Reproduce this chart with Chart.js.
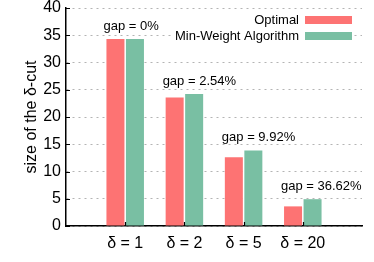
<!DOCTYPE html>
<html>
<head>
<meta charset="utf-8">
<script src="https://cdn.jsdelivr.net/npm/chart.js@4.4.1/dist/chart.umd.min.js"></script>
<style>
	html, body { margin: 0; padding: 0; background: #fff; }
	#wrap { width: 374px; height: 262px; }
</style>
</head>
<body>
<div id="wrap"><canvas id="chart"></canvas></div>
<script>
	// ===== DATA =====
	const categories = ['δ = 1', 'δ = 2', 'δ = 5', 'δ = 20'];
	const optimalValues = [34.3, 23.6, 12.6, 3.6];
	const minWeightValues = [34.3, 24.2, 13.85, 4.92];
	const gapLabels = ['gap = 0%', 'gap = 2.54%', 'gap = 9.92%', 'gap = 36.62%'];
	const yTicks = [0, 5, 10, 15, 20, 25, 30, 35, 40];

	const FONT = '"Liberation Sans", Arial, Helvetica, sans-serif';
	const RED = '#fd7373';
	const GREEN = '#79bfa3';

	// empty slot on each side so the groups sit at 1/5 .. 4/5 of the axis
	const labels = [''].concat(categories, ['']);
	const pad = arr => [null].concat(arr, [null]);

	// gap labels, inward ticks and stacked legend
	const extras = {
		id: 'extras',
		afterDatasetsDraw(chart) {
			const ctx = chart.ctx;
			const area = chart.chartArea;
			const x = chart.scales.x;
			const y = chart.scales.y;
			ctx.save();

			// small inward ticks
			ctx.strokeStyle = '#000';
			ctx.lineWidth = 1.2;
			ctx.beginPath();
			for (let i = 1; i <= categories.length; i++) {
				const px = Math.round(x.getPixelForValue(i)) + 0.5;
				ctx.moveTo(px, area.bottom);
				ctx.lineTo(px, area.bottom - 4);
			}
			yTicks.forEach(v => {
				const py = Math.round(y.getPixelForValue(v)) + 0.5;
				ctx.moveTo(area.left, py);
				ctx.lineTo(area.left + 4, py);
			});
			ctx.stroke();

			// gap labels
			ctx.fillStyle = '#000';
			ctx.font = '13px ' + FONT;
			ctx.textAlign = 'left';
			ctx.textBaseline = 'middle';
			const red = chart.getDatasetMeta(0).data;
			const green = chart.getDatasetMeta(1).data;
			gapLabels.forEach((txt, i) => {
				const r = red[i + 1];
				const g = green[i + 1];
				ctx.fillText(txt, r.x - r.width / 2 - 3, g.y - 13);
			});

			// legend (text right, box on the right), on a white backing
			const widest = Math.max(...chart.data.datasets.map(ds => ctx.measureText(ds.label).width));
			ctx.fillStyle = '#fff';
			ctx.fillRect(299 - widest - 3, 11, 354 - (299 - widest - 3), 33);
			ctx.textAlign = 'right';
			chart.data.datasets.forEach((ds, i) => {
				const cy = 20 + i * 16;
				ctx.fillStyle = '#000';
				ctx.fillText(ds.label, 299, cy);
				ctx.fillStyle = ds.backgroundColor;
				ctx.fillRect(305, cy - 4, 47, 8);
			});
			ctx.restore();
		}
	};

	new Chart(document.getElementById('chart'), {
		type: 'bar',
		data: {
			labels: labels,
			datasets: [
				{ label: 'Optimal', data: pad(optimalValues), backgroundColor: RED },
				{ label: 'Min-Weight Algorithm', data: pad(minWeightValues), backgroundColor: GREEN }
			]
		},
		options: {
			responsive: true,
			maintainAspectRatio: false,
			animation: false,
			devicePixelRatio: 1,
			layout: { padding: { top: 8, right: 12, bottom: 0, left: 0 } },
			datasets: {
				bar: { categoryPercentage: 0.659, barPercentage: 0.923, borderWidth: 0 }
			},
			plugins: {
				legend: { display: false },
				tooltip: { enabled: false }
			},
			scales: {
				x: {
					offset: false,
					grid: { display: false, drawTicks: false },
					border: { display: true, color: '#000', width: 1.5 },
					ticks: { color: '#000', font: { family: FONT, size: 16 }, padding: 8, autoSkip: false, maxRotation: 0 },
					afterFit(scale) { scale.height = 36; scale.paddingLeft = 0; scale.paddingRight = 0; }
				},
				y: {
					min: 0,
					max: 40,
					afterBuildTicks(scale) { scale.ticks = yTicks.map(v => ({ value: v })); },
					grid: { color: '#b4b4b4', lineWidth: 1, drawTicks: false },
					border: { display: true, color: '#000', width: 1.5, dash: [2, 4] },
					ticks: { color: '#000', font: { family: FONT, size: 16 }, padding: 5 },
					title: {
						display: true,
						text: 'size of the δ-cut',
						color: '#000',
						font: { family: FONT, size: 16 },
						padding: { top: 22, bottom: 0 }
					},
					afterFit(scale) { scale.width = 66; scale.paddingTop = 0; scale.paddingBottom = 0; }
				}
			}
		},
		plugins: [extras]
	});
</script>
</body>
</html>
